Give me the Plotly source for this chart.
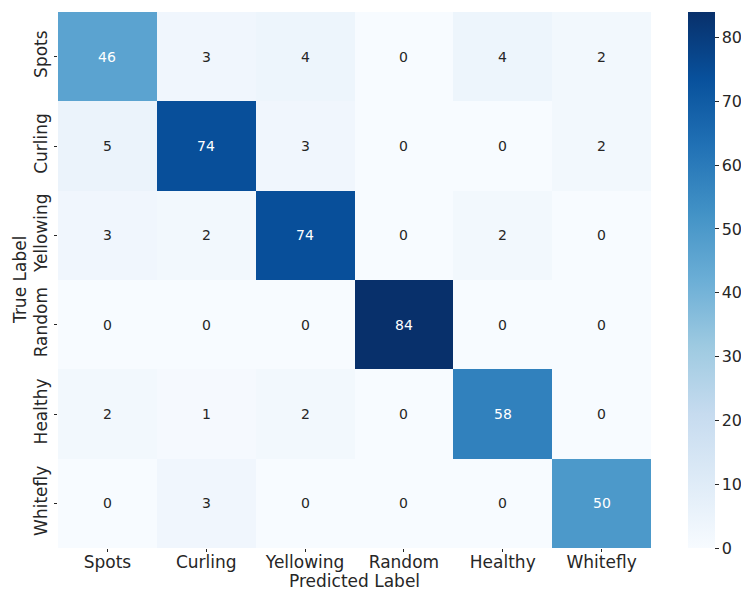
import plotly.graph_objects as go
import plotly.express as px

# Confusion matrix of the leaf-condition classifier
classes = ["Spots", "Curling", "Yellowing", "Random", "Healthy", "Whitefly"]
row_spots = [46, 3, 4, 0, 4, 2]
row_curling = [5, 74, 3, 0, 0, 2]
row_yellowing = [3, 2, 74, 0, 2, 0]
row_random = [0, 0, 0, 84, 0, 0]
row_healthy = [2, 1, 2, 0, 58, 0]
row_whitefly = [0, 3, 0, 0, 0, 50]
matrix = [row_spots, row_curling, row_yellowing, row_random, row_healthy, row_whitefly]
colorbar_ticks = [0, 10, 20, 30, 40, 50, 60, 70, 80]

zmin, zmax = 0, max(max(r) for r in matrix)
font_family = "DejaVu Sans"
dark = "#262626"

fig = go.Figure(
    go.Heatmap(
        z=matrix,
        x=classes,
        y=classes,
        zmin=zmin,
        zmax=zmax,
        colorscale=px.colors.sequential.Blues,
        showscale=True,
        colorbar=dict(
            thickness=27,
            len=1.0,
            lenmode="fraction",
            x=1.062,
            xanchor="left",
            xpad=0,
            ypad=0,
            y=0.5,
            yanchor="middle",
            outlinewidth=0,
            tickvals=colorbar_ticks,
            ticks="outside",
            ticklen=4,
            tickwidth=1,
            tickcolor=dark,
            tickfont=dict(family=font_family, size=16, color=dark),
        ),
    )
)

# Cell counts, white on dark cells and dark on light cells
for i, true_label in enumerate(classes):
    for j, pred_label in enumerate(classes):
        v = matrix[i][j]
        fig.add_annotation(
            x=pred_label,
            y=true_label,
            text=str(v),
            showarrow=False,
            font=dict(family=font_family, size=14,
                      color="white" if v / zmax > 0.45 else dark),
        )

# Axis titles
fig.add_annotation(
    text="Predicted Label", xref="paper", yref="paper", x=0.5, y=0,
    yanchor="middle", yshift=-33, showarrow=False,
    font=dict(family=font_family, size=17, color=dark),
)
fig.add_annotation(
    text="True Label", xref="paper", yref="paper", x=0, y=0.5,
    xanchor="center", xshift=-38, textangle=-90, showarrow=False,
    font=dict(family=font_family, size=17, color=dark),
)

fig.update_layout(
    width=741,
    height=592,
    margin=dict(l=58, r=90, t=12, b=44, autoexpand=False),
    paper_bgcolor="white",
    plot_bgcolor="white",
    font=dict(family=font_family, color=dark),
    xaxis=dict(
        tickfont=dict(size=17),
        ticks="outside",
        ticklen=3,
        tickcolor=dark,
        ticklabelstandoff=-4,
        showgrid=False,
        zeroline=False,
        automargin=False,
    ),
    yaxis=dict(
        tickfont=dict(size=17),
        tickangle=-90,
        ticks="outside",
        ticklen=3,
        tickcolor=dark,
        autorange="reversed",
        showgrid=False,
        zeroline=False,
        automargin=False,
    ),
)

fig.write_html("out.html")
